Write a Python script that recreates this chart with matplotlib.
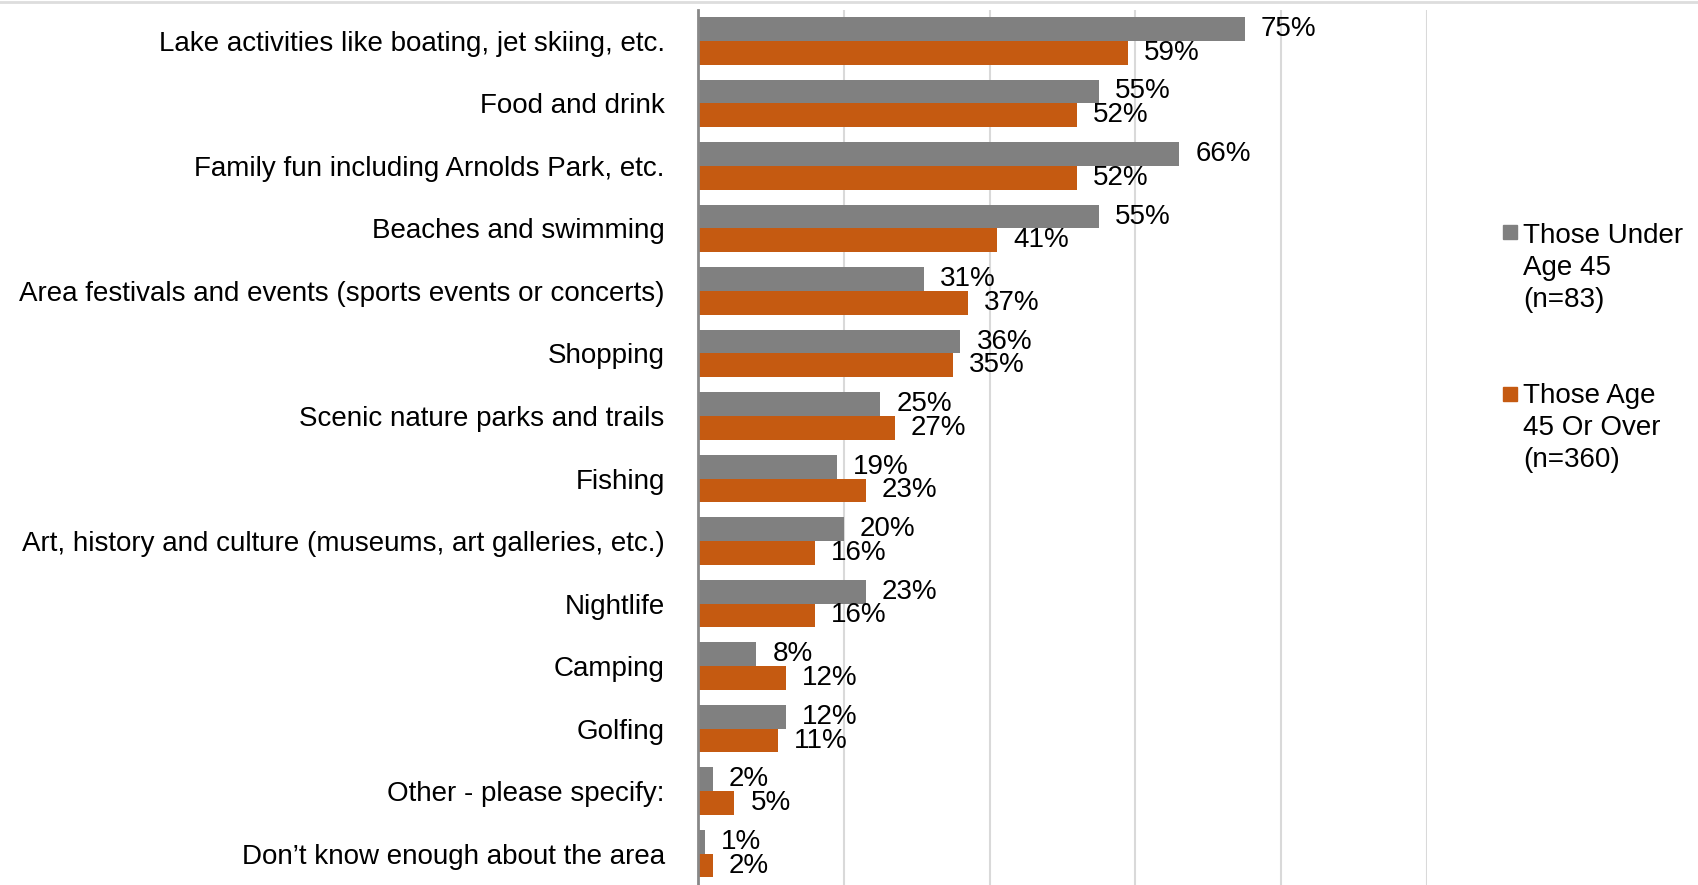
import numpy as np
import matplotlib
matplotlib.use('Agg')
import matplotlib.pyplot as plt
from matplotlib.lines import Line2D
from matplotlib.patches import Rectangle

# Survey data (percent of respondents)
categories = [
    'Lake activities like boating, jet skiing, etc.',
    'Food and drink',
    'Family fun including Arnolds Park, etc.',
    'Beaches and swimming',
    'Area festivals and events (sports events or concerts)',
    'Shopping',
    'Scenic nature parks and trails',
    'Fishing',
    'Art, history and culture (museums, art galleries, etc.)',
    'Nightlife',
    'Camping',
    'Golfing',
    'Other - please specify:',
    'Don\u2019t know enough about the area',
]
under_45 = [75, 55, 66, 55, 31, 36, 25, 19, 20, 23, 8, 12, 2, 1]
over_45 = [59, 52, 52, 41, 37, 35, 27, 23, 16, 16, 12, 11, 5, 2]
series_names = [['Those Under', 'Age 45', '(n=83)'],
                ['Those Age', '45 Or Over', '(n=360)']]
colors = ['#808080', '#C55A11']

plt.rcParams['font.family'] = ['Liberation Sans', 'DejaVu Sans']

fig = plt.figure(figsize=(16.98, 8.85), dpi=100)
ax = fig.add_axes([0.4111, 0.0, 0.4293, 0.9892])

y = np.arange(len(categories))
h = 0.38
b1 = ax.barh(y - h / 2, under_45, height=h, color=colors[0])
b2 = ax.barh(y + h / 2, over_45, height=h, color=colors[1])

for bars, vals in [(b1, under_45), (b2, over_45)]:
    ax.bar_label(bars, labels=[f'{v}%' for v in vals], padding=11.5, fontsize=20)

ax.set_ylim(len(categories) - 0.5, -0.5)
ax.set_xlim(0, 100)
ax.set_xticks([0, 20, 40, 60, 80, 100])
ax.set_xticklabels([])
ax.tick_params(axis='x', length=0)
ax.grid(axis='x', color='#d9d9d9', linewidth=1.5)
ax.set_axisbelow(True)

ax.set_yticks(y)
ax.set_yticklabels(categories, fontsize=20)
ax.tick_params(axis='y', length=0, pad=24)

for s in ['top', 'right', 'bottom']:
    ax.spines[s].set_visible(False)
ax.spines['left'].set_color('#888888')
ax.spines['left'].set_linewidth(2)

# legend drawn by hand so the marker sits on the first text line
sq_bottoms = [0.7299, 0.5469]
first_baselines = [0.7254, 0.5446]
line_step = 32 / 885
for i in range(2):
    fig.add_artist(Rectangle((0.8852, sq_bottoms[i]), 14 / 1698, 14 / 885,
                             transform=fig.transFigure, color=colors[i]))
    for j, line in enumerate(series_names[i]):
        fig.text(0.8969, first_baselines[i] - j * line_step, line,
                 fontsize=20, va='baseline', ha='left')

# thin border line along the top
fig.add_artist(Line2D([0, 1], [0.998, 0.998], color='#dddddd', lw=2,
                      transform=fig.transFigure))

fig.savefig('out.png', dpi=100)
